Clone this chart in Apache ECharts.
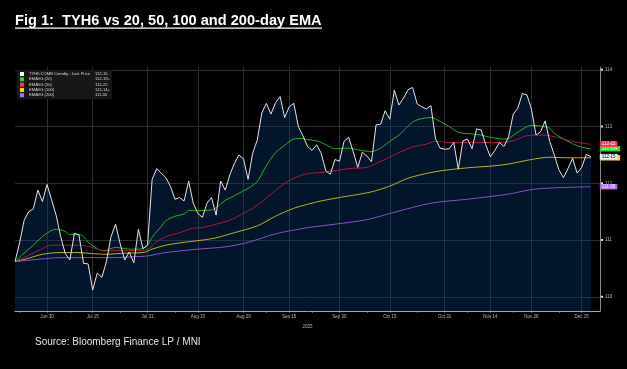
<!DOCTYPE html>
<html><head><meta charset="utf-8">
<script src="https://cdn.jsdelivr.net/npm/echarts@6/dist/echarts.min.js"></script>
<style>html,body{margin:0;padding:0;background:#000;}#c{width:627px;height:369px;}</style>
</head><body><div id="c"></div>
<script>
const categories = [
'Jun 18','Jun 20','Jun 23','Jun 24','Jun 25','Jun 26','Jun 27','Jun 30',
'Jul 1','Jul 2','Jul 3','Jul 7','Jul 8','Jul 9','Jul 10','Jul 11','Jul 14','Jul 15','Jul 16','Jul 17','Jul 18','Jul 21','Jul 22','Jul 23','Jul 24','Jul 25','Jul 28','Jul 29','Jul 30','Jul 31',
'Aug 1','Aug 4','Aug 5','Aug 6','Aug 7','Aug 8','Aug 11','Aug 12','Aug 13','Aug 14','Aug 15','Aug 18','Aug 19','Aug 20','Aug 21','Aug 22','Aug 25','Aug 26','Aug 27','Aug 28','Aug 29',
'Sep 2','Sep 3','Sep 4','Sep 5','Sep 8','Sep 9','Sep 10','Sep 11','Sep 12','Sep 15','Sep 16','Sep 17','Sep 18','Sep 19','Sep 22','Sep 23','Sep 24','Sep 25','Sep 26','Sep 29','Sep 30',
'Oct 1','Oct 2','Oct 3','Oct 6','Oct 7','Oct 8','Oct 9','Oct 10','Oct 13','Oct 14','Oct 15','Oct 16','Oct 17','Oct 20','Oct 21','Oct 22','Oct 23','Oct 24','Oct 27','Oct 28','Oct 29','Oct 30','Oct 31',
'Nov 3','Nov 4','Nov 5','Nov 6','Nov 7','Nov 10','Nov 11','Nov 12','Nov 13','Nov 14','Nov 17','Nov 18','Nov 19','Nov 20','Nov 21','Nov 24','Nov 25','Nov 26','Nov 28',
'Dec 1','Dec 2','Dec 3','Dec 4','Dec 5','Dec 8','Dec 9','Dec 10','Dec 11','Dec 12','Dec 15','Dec 16','Dec 17','Dec 18','Dec 19'];

const labelDates = ['Jun 30','Jul 15','Jul 31','Aug 15','Aug 29','Sep 15','Sep 30','Oct 15','Oct 31','Nov 14','Nov 28','Dec 15'];
const minorTickDates = ['Jun 20','Jul 8','Jul 23','Aug 8','Aug 22','Sep 8','Sep 22','Oct 8','Oct 23','Nov 7','Nov 21','Dec 8'];
const yTicks = [110, 111, 112, 113, 114];

const price = [
110.62,110.95,111.35,111.50,111.55,111.88,111.68,111.98,111.71,111.44,
111.06,110.76,110.65,111.12,111.09,110.59,110.58,110.12,110.42,110.34,
110.62,111.06,111.28,110.94,110.65,110.79,110.60,111.19,110.85,110.91,
112.07,112.26,112.18,112.10,111.95,111.72,111.75,111.69,112.04,111.65,
111.47,111.40,111.65,111.75,111.44,112.04,111.88,112.15,112.35,112.50,
112.43,112.07,112.53,112.76,113.24,113.41,113.22,113.42,113.53,113.16,
113.35,113.41,113.00,112.84,112.65,112.58,112.68,112.53,112.22,112.16,
112.42,112.39,112.74,112.81,112.56,112.28,112.55,112.48,112.38,113.03,
113.04,113.28,113.13,113.64,113.38,113.50,113.65,113.69,113.40,113.35,
113.31,113.37,112.79,112.62,112.60,112.61,112.72,112.25,112.75,112.78,
112.61,112.96,112.94,112.68,112.47,112.58,112.72,112.65,112.82,113.22,
113.32,113.58,113.56,113.31,112.85,112.91,113.10,112.74,112.50,112.24,
112.10,112.26,112.44,112.18,112.28,112.51,112.47];

const ema20 = [
['Jun 18',110.62],['Jun 23',110.77],['Jun 25',110.91],['Jun 27',111.06],['Jul 1',111.17],['Jul 2',111.19],['Jul 3',111.18],
['Jul 7',111.15],['Jul 8',111.10],['Jul 10',111.10],['Jul 11',111.06],['Jul 14',110.96],['Jul 16',110.85],['Jul 17',110.81],
['Jul 18',110.82],['Jul 22',110.87],['Jul 24',110.85],['Jul 25',110.84],['Jul 29',110.84],['Jul 30',110.85],['Jul 31',110.91],
['Aug 1',111.05],['Aug 5',111.24],['Aug 6',111.34],['Aug 8',111.42],['Aug 12',111.46],['Aug 13',111.52],['Aug 15',111.52],
['Aug 20',111.53],['Aug 21',111.57],['Aug 25',111.70],['Aug 27',111.78],['Aug 29',111.87],['Sep 2',111.91],['Sep 4',112.03],
['Sep 8',112.31],['Sep 10',112.54],['Sep 12',112.67],['Sep 16',112.78],['Sep 18',112.79],['Sep 19',112.77],['Sep 23',112.75],
['Sep 25',112.68],['Sep 29',112.61],['Oct 2',112.62],['Oct 6',112.59],['Oct 9',112.56],['Oct 13',112.62],['Oct 15',112.74],
['Oct 17',112.85],['Oct 22',113.08],['Oct 24',113.14],['Oct 28',113.16],['Oct 30',113.09],['Nov 3',113.00],['Nov 5',112.90],
['Nov 10',112.87],['Nov 12',112.85],['Nov 14',112.81],['Nov 19',112.78],['Nov 20',112.79],['Nov 24',112.90],['Nov 28',113.02],
['Dec 2',113.01],['Dec 4',112.97],['Dec 5',112.88],['Dec 10',112.74],['Dec 12',112.66],['Dec 16',112.62],['Dec 17',112.61]];

const ema50 = [
['Jun 18',110.62],['Jun 24',110.73],['Jun 27',110.85],['Jul 1',110.91],['Jul 7',110.91],['Jul 10',110.91],['Jul 14',110.89],
['Jul 16',110.84],['Jul 18',110.81],['Jul 23',110.82],['Jul 28',110.82],['Jul 31',110.84],['Aug 4',110.97],['Aug 6',111.06],
['Aug 11',111.13],['Aug 14',111.21],['Aug 18',111.22],['Aug 21',111.28],['Aug 26',111.35],['Aug 29',111.47],['Sep 3',111.56],
['Sep 8',111.74],['Sep 11',111.94],['Sep 16',112.09],['Sep 19',112.17],['Sep 24',112.19],['Sep 29',112.22],['Oct 2',112.26],
['Oct 8',112.28],['Oct 10',112.35],['Oct 15',112.46],['Oct 17',112.54],['Oct 22',112.64],['Oct 27',112.69],['Oct 29',112.74],
['Nov 3',112.72],['Nov 7',112.72],['Nov 12',112.72],['Nov 18',112.72],['Nov 21',112.75],['Nov 26',112.84],['Dec 2',112.85],
['Dec 4',112.84],['Dec 9',112.78],['Dec 12',112.72],['Dec 17',112.69]];

const ema100 = [
['Jun 18',110.62],['Jun 24',110.68],['Jun 27',110.75],['Jul 3',110.78],['Jul 10',110.78],['Jul 15',110.76],['Jul 18',110.75],
['Jul 24',110.77],['Jul 30',110.78],['Aug 1',110.84],['Aug 6',110.91],['Aug 12',110.96],['Aug 18',111.00],['Aug 21',111.04],
['Aug 27',111.13],['Sep 4',111.25],['Sep 10',111.42],['Sep 16',111.56],['Sep 19',111.63],['Sep 24',111.69],['Sep 30',111.75],
['Oct 3',111.79],['Oct 9',111.85],['Oct 15',111.95],['Oct 21',112.09],['Oct 28',112.19],['Nov 3',112.24],['Nov 10',112.28],
['Nov 17',112.31],['Nov 20',112.34],['Nov 28',112.42],['Dec 4',112.46],['Dec 10',112.45],['Dec 17',112.45]];

const ema200 = [
['Jun 18',110.62],['Jun 26',110.66],['Jul 3',110.69],['Jul 14',110.69],['Jul 21',110.69],['Jul 29',110.71],['Jul 31',110.72],
['Aug 6',110.78],['Aug 15',110.84],['Aug 25',110.88],['Sep 2',110.96],['Sep 10',111.11],['Sep 17',111.19],['Sep 19',111.22],
['Sep 29',111.28],['Oct 8',111.36],['Oct 16',111.49],['Oct 28',111.65],['Nov 7',111.72],['Nov 20',111.81],['Nov 28',111.89],
['Dec 5',111.92],['Dec 17',111.94]];

const names = ['TYH6 COMB Comdty - Last Price','EMAVG (20)','EMAVG (50)','EMAVG (100)','EMAVG (200)'];
const lineColors = ['#e4e4e4','#1fb51f','#b3163a','#c2b01c','#8d4fc6'];
const boxColors = ['#f2f2f2','#22dd22','#ff3355','#eedd00','#b070e6'];
const boxText = ['#000','#fff','#fff','#000','#fff'];

function to32(v){
  const whole = Math.floor(v);
  let t = Math.round((v - whole) * 64) / 2;
  const plus = (t % 1) !== 0;
  t = Math.floor(t);
  return whole + '-' + String(t).padStart(2,'0') + (plus ? '+' : '');
}
function lastVal(d){ const x = d[d.length-1]; return Array.isArray(x) ? x[1] : x; }
const allData = [price, ema20, ema50, ema100, ema200];
const lastVals = {};
names.forEach((n,i)=>{ lastVals[n] = to32(lastVal(allData[i])); });

function endLabel(i){
  return {show:true, distance:9, formatter:p=>to32(Array.isArray(p.value)?p.value[1]:p.value),
    backgroundColor:boxColors[i], color:boxText[i], fontSize:4.5, fontFamily:'Liberation Sans',
    padding:[0.5,2,0.5,2], lineHeight:4.5};
}

const chart = echarts.init(document.getElementById('c'), null, {renderer:'canvas'});
const gridColor = '#2d2d2d';
chart.setOption({
  backgroundColor:'#000',
  animation:false,
  graphic:[
    {type:'text', left:15, top:13, style:{text:'Fig 1:  TYH6 vs 20, 50, 100 and 200-day EMA', fill:'#fff', font:'bold 14.6px "Liberation Sans", Arial, sans-serif'}},
    {type:'rect', shape:{x:15, y:27.5, width:307, height:1.3}, style:{fill:'#fff'}},
    {type:'text', left:35, top:337, style:{text:'Source: Bloomberg Finance LP / MNI', fill:'#e2e2e2', font:'10px "Liberation Sans", Arial, sans-serif'}}
  ],
  grid:{left:15, right:27, top:67, bottom:58, containLabel:false, outerBoundsMode:'none'},
  legend:{
    show:true, orient:'vertical', left:17, top:70, itemWidth:4, itemHeight:4, itemGap:1.2, icon:'rect',
    backgroundColor:'#171717', padding:[2,2,2,3], selectedMode:false,
    data: names.map((n,i)=>({name:n, itemStyle:{color: i===0?'#ffffff':boxColors[i]}})),
    formatter: n => '{n|' + n + '}{v|' + lastVals[n] + '}',
    textStyle:{color:'#d8d8d8', fontSize:4.1, fontFamily:'Liberation Sans', lineHeight:4.1,
      rich:{n:{width:66, fontSize:4.1, color:'#d8d8d8'}, v:{fontSize:4.1, color:'#d8d8d8'}}}
  },
  xAxis:{
    type:'category', data:categories, boundaryGap:false,
    name:'2025', nameLocation:'middle', nameGap:8,
    nameTextStyle:{color:'#b0b0b0', fontSize:4.5, fontFamily:'Liberation Sans'},
    axisLine:{show:true, lineStyle:{color:'#a8a8a8', width:1}},
    axisTick:{show:true, length:1.5, lineStyle:{color:'#a8a8a8'},
      interval:(i,v)=>labelDates.includes(v)||minorTickDates.includes(v)},
    axisLabel:{show:true, color:'#b8b8b8', fontSize:4.5, fontFamily:'Liberation Sans', margin:3,
      interval:(i,v)=>labelDates.includes(v)},
    splitLine:{show:true, lineStyle:{color:gridColor, width:1}, interval:(i,v)=>labelDates.includes(v)}
  },
  yAxis:{
    type:'value', position:'right', min:109.75, max:114.05, interval:0.25, scale:true,
    axisLine:{show:true, lineStyle:{color:'#8a8a8a', width:1}},
    axisTick:{show:false},
    axisLabel:{show:true, margin:1, color:'#b8b8b8', fontSize:4.5, fontFamily:'Liberation Sans',
      formatter:v => yTicks.includes(Math.round(v*100)/100) ? '{s|}{t|' + Math.round(v) + '}' : '',
      rich:{s:{width:2, height:2, backgroundColor:'#dddddd'}, t:{fontSize:4.5, color:'#b8b8b8', padding:[0,0,0,2]}}},
    splitLine:{show:true, lineStyle:{width:1, color:['rgba(0,0,0,0)', gridColor, 'rgba(0,0,0,0)', 'rgba(0,0,0,0)']}}
  },
  series:[
    {name:'area', type:'line', data:price, symbol:'none', z:1, silent:true,
      lineStyle:{width:0, opacity:0}, itemStyle:{color:'#0a3a70'},
      areaStyle:{color:'rgba(8,60,118,0.5)', origin:'start'}},
    {name:names[1], type:'line', data:ema20, symbol:'none', z:2, smooth:0.3, color:lineColors[1],
      lineStyle:{width:1, color:lineColors[1]}, endLabel:endLabel(1)},
    {name:names[2], type:'line', data:ema50, symbol:'none', z:3, smooth:0.3, color:lineColors[2],
      lineStyle:{width:1, color:lineColors[2]}, endLabel:endLabel(2)},
    {name:names[3], type:'line', data:ema100, symbol:'none', z:4, smooth:0.3, color:lineColors[3],
      lineStyle:{width:1, color:lineColors[3]}, endLabel:endLabel(3)},
    {name:names[4], type:'line', data:ema200, symbol:'none', z:5, smooth:0.3, color:lineColors[4],
      lineStyle:{width:1, color:lineColors[4]}, endLabel:endLabel(4)},
    {name:names[0], type:'line', data:price, symbol:'none', z:6, color:lineColors[0],
      lineStyle:{width:1, color:lineColors[0]}, endLabel:endLabel(0)}
  ]
});
</script></body></html>
